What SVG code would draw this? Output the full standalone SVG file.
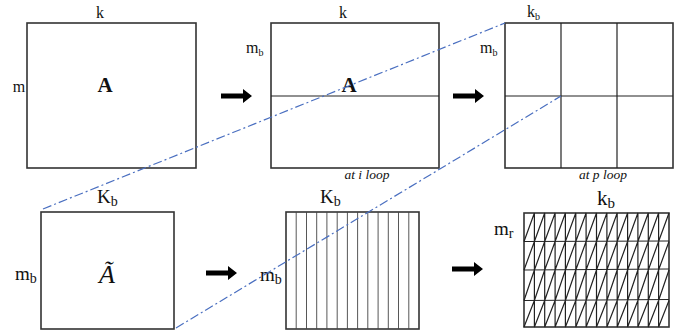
<svg xmlns="http://www.w3.org/2000/svg" width="693" height="331" viewBox="0 0 693 331">
<defs>
<style>
.box{fill:#fff;stroke:#333;stroke-width:1.6}
.ln{stroke:#222;stroke-width:1.2;fill:none}
.thin{stroke:#444;stroke-width:0.9;fill:none}
.t{font-family:"Liberation Serif","Times New Roman",serif;fill:#111}
.it{font-style:italic}
.dd{stroke:#4a6fc0;stroke-width:1.2;fill:none;stroke-dasharray:9 3 2 3}
</style>
<polygon id="arr" points="0,-2.5 22,-2.5 22,-7 31,0 22,7 22,2.5 0,2.5" fill="#000"/>
</defs>
<g id="box1">
<rect class="box" x="27" y="23" width="169" height="145"/>
<text class="t" x="100" y="18" font-size="16" text-anchor="middle">k</text>
<text class="t" x="19" y="92" font-size="16" text-anchor="middle">m</text>
<text class="t" x="105" y="92" font-size="21" font-weight="bold" text-anchor="middle">A</text>
</g>
<g id="box2">
<rect class="box" x="271" y="23" width="168" height="145"/>
<line class="ln" x1="271" y1="96" x2="439" y2="96"/>
<text class="t" x="343" y="18" font-size="16" text-anchor="middle">k</text>
<text class="t" x="246" y="53" font-size="16">m<tspan font-size="10" dy="3">b</tspan></text>
<text class="t" x="349" y="92" font-size="21" font-weight="bold" text-anchor="middle">A</text>
<text class="t it" x="367" y="179" font-size="13.5" text-anchor="middle">at i loop</text>
</g>
<g id="box3">
<rect class="box" x="505" y="23" width="168" height="145"/>
<line class="ln" x1="561" y1="23" x2="561" y2="168"/>
<line class="ln" x1="617" y1="23" x2="617" y2="168"/>
<line class="ln" x1="505" y1="96" x2="673" y2="96"/>
<text class="t" x="527" y="17" font-size="16">k<tspan font-size="10" dy="3">b</tspan></text>
<text class="t" x="480" y="53" font-size="16">m<tspan font-size="10" dy="3">b</tspan></text>
<text class="t it" x="603" y="179" font-size="13.5" text-anchor="middle">at p loop</text>
</g>
<g id="box4">
<rect class="box" x="41" y="212" width="133" height="117"/>
<text class="t" x="97" y="203" font-size="19">K<tspan font-size="14" dy="3">b</tspan></text>
<text class="t" x="15" y="280" font-size="19">m<tspan font-size="14" dy="3">b</tspan></text>
<text class="t it" x="107" y="283" font-size="26" text-anchor="middle">Ã</text>
</g>
<g id="box5">
<rect class="box" x="286" y="212" width="133" height="117"/>
<g class="thin">
<line x1="296.2" y1="212" x2="296.2" y2="329"/>
<line x1="306.5" y1="212" x2="306.5" y2="329"/>
<line x1="316.7" y1="212" x2="316.7" y2="329"/>
<line x1="326.9" y1="212" x2="326.9" y2="329"/>
<line x1="337.2" y1="212" x2="337.2" y2="329"/>
<line x1="347.4" y1="212" x2="347.4" y2="329"/>
<line x1="357.6" y1="212" x2="357.6" y2="329"/>
<line x1="367.8" y1="212" x2="367.8" y2="329"/>
<line x1="378.1" y1="212" x2="378.1" y2="329"/>
<line x1="388.3" y1="212" x2="388.3" y2="329"/>
<line x1="398.5" y1="212" x2="398.5" y2="329"/>
<line x1="408.8" y1="212" x2="408.8" y2="329"/>
</g>
<text class="t" x="320" y="203" font-size="19">K<tspan font-size="14" dy="3">b</tspan></text>
<text class="t" x="260" y="281" font-size="19">m<tspan font-size="14" dy="3">b</tspan></text>
</g>
<g id="box6">
<rect class="box" x="524" y="213" width="145" height="114" stroke-width="2.2" stroke="#111"/>
<g class="ln" stroke-width="1.3">
<line x1="524" y1="241.5" x2="669" y2="241"/>
<line x1="524" y1="270" x2="669" y2="269"/>
<line x1="524" y1="300.5" x2="669" y2="299.5"/>
<path d="M524,241.5 L534.4,213 V241.5 L544.7,213 V241.5 L555.1,213 V241.5 L565.4,213 V241.5 L575.8,213 V241.5 L586.1,213 V241.5 L596.5,213 V241.5 L606.9,213 V241.5 L617.2,213 V241.5 L627.6,213 V241.5 L637.9,213 V241.5 L648.3,213 V241.5 L658.6,213 V241.5 L669,213"/>
<path d="M524,270 L534.4,241.5 V270 L544.7,241.5 V270 L555.1,241.5 V270 L565.4,241.5 V270 L575.8,241.5 V270 L586.1,241.5 V270 L596.5,241.5 V270 L606.9,241.5 V270 L617.2,241.5 V270 L627.6,241.5 V270 L637.9,241.5 V270 L648.3,241.5 V270 L658.6,241.5 V270 L669,241.5"/>
<path d="M524,300.5 L534.4,270 V300.5 L544.7,270 V300.5 L555.1,270 V300.5 L565.4,270 V300.5 L575.8,270 V300.5 L586.1,270 V300.5 L596.5,270 V300.5 L606.9,270 V300.5 L617.2,270 V300.5 L627.6,270 V300.5 L637.9,270 V300.5 L648.3,270 V300.5 L658.6,270 V300.5 L669,270"/>
<path d="M524,327 L534.4,300.5 V327 L544.7,300.5 V327 L555.1,300.5 V327 L565.4,300.5 V327 L575.8,300.5 V327 L586.1,300.5 V327 L596.5,300.5 V327 L606.9,300.5 V327 L617.2,300.5 V327 L627.6,300.5 V327 L637.9,300.5 V327 L648.3,300.5 V327 L658.6,300.5 V327 L669,300.5"/>
</g>
<text class="t" x="597" y="205" font-size="21">k<tspan font-size="15" dy="3">b</tspan></text>
<text class="t" x="494" y="235" font-size="19">m<tspan font-size="14" dy="3">r</tspan></text>
</g>
<g id="connectors">
<use href="#arr" x="221" y="96"/>
<use href="#arr" x="453" y="96"/>
<use href="#arr" x="206" y="273"/>
<use href="#arr" x="452" y="269"/>
<line class="dd" x1="43" y1="209" x2="505" y2="23"/>
<line class="dd" x1="176" y1="328" x2="561" y2="96"/>
</g>
</svg>
